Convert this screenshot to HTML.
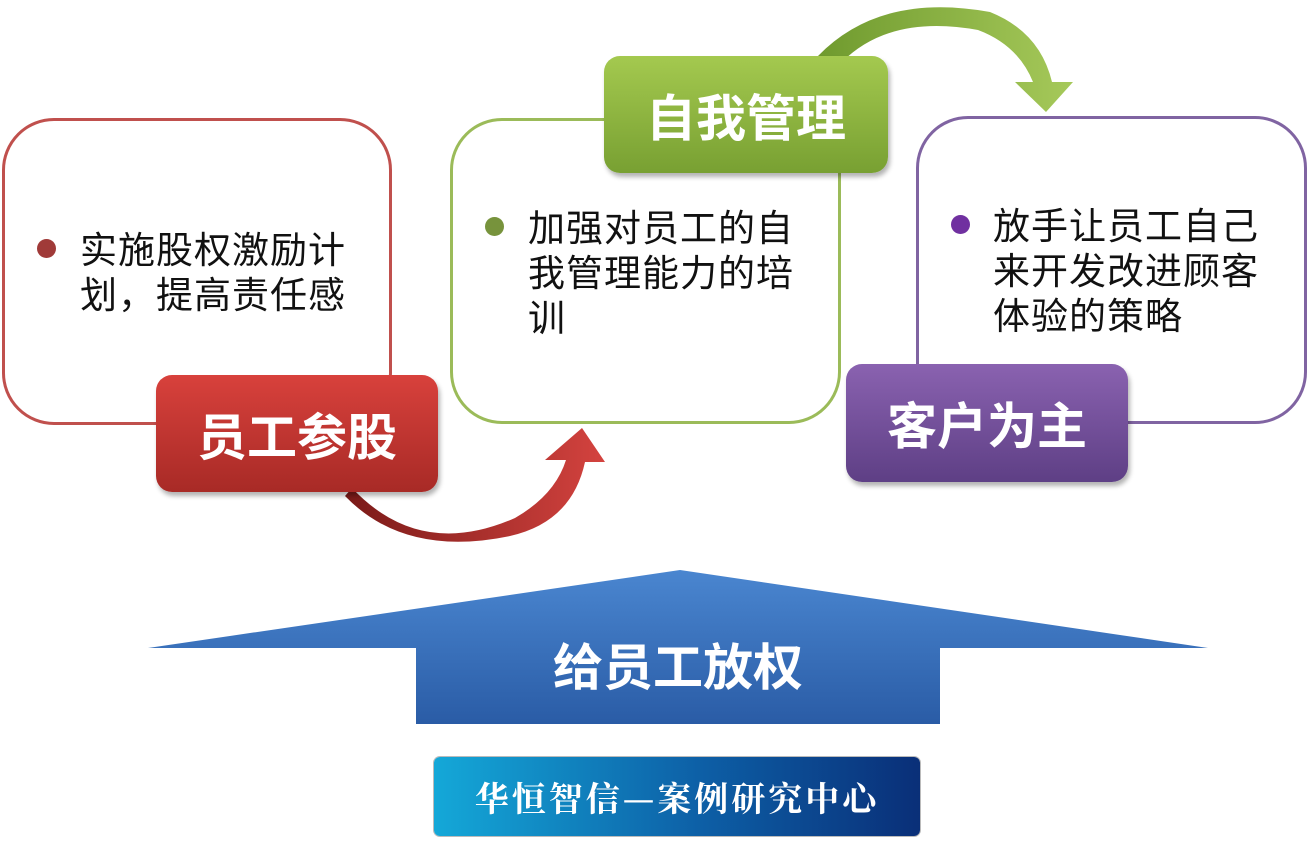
<!DOCTYPE html>
<html><head><meta charset="utf-8"><style>
body{margin:0;width:1308px;height:841px;background:#fff;position:relative;overflow:hidden;font-family:"Liberation Sans","Noto Sans CJK SC",sans-serif;}
.box{position:absolute;background:#fff;border-radius:52px;border:3px solid;box-sizing:border-box;}
.lab{position:absolute;border-radius:16px;color:#fff;font-weight:bold;font-size:50px;display:flex;align-items:center;justify-content:center;box-shadow:2px 4px 5px rgba(0,0,0,.3);}
.txt{position:absolute;font-size:37px;line-height:45px;color:#111;letter-spacing:1px}
.dot{position:absolute;width:19px;height:19px;border-radius:50%;}
</style></head><body>
<svg width="1308" height="841" style="position:absolute;left:0;top:0">
<defs>
<linearGradient id="rg" x1="0" y1="0" x2="1" y2="0"><stop offset="0" stop-color="#7a1a18"/><stop offset="1" stop-color="#d4433f"/></linearGradient>
<linearGradient id="gg" x1="0" y1="0" x2="1" y2="0"><stop offset="0" stop-color="#6f9a2e"/><stop offset="1" stop-color="#a6c95a"/></linearGradient>
<linearGradient id="bg" x1="0" y1="0" x2="0" y2="1"><stop offset="0" stop-color="#4a86d0"/><stop offset="1" stop-color="#2a5ca6"/></linearGradient>
</defs>
<path d="M352,488 Q420,560 515,518 Q555,495 566,460 L545,460 L582,428 L605,462 L585,462 Q572,522 510,536 Q405,558 345,496 Z" fill="url(#rg)"/>
<path d="M818,56 Q880,-8 990,12 Q1040,32 1052,82 L1073,82 L1046,112 L1015,82 L1033,82 Q1018,45 978,30 Q890,14 842,62 Z" fill="url(#gg)"/>
<polygon points="680,570 148,648 416,648 416,724 940,724 940,648 1208,648" fill="url(#bg)"/>
</svg>
<div class="box" style="left:2px;top:118px;width:390px;height:307px;border-color:#c0504d"></div>
<div class="box" style="left:450px;top:118px;width:391px;height:306px;border-color:#9bbb59"></div>
<div class="box" style="left:916px;top:116px;width:391px;height:308px;border-color:#8064a2"></div>
<div class="dot" style="left:37px;top:239px;background:#a03a38"></div>
<div class="txt" style="left:80px;top:228px">实施股权激励计<br>划，提高责任感</div>
<div class="dot" style="left:485px;top:217px;background:#77933c"></div>
<div class="txt" style="left:528px;top:206px">加强对员工的自<br>我管理能力的培<br>训</div>
<div class="dot" style="left:951px;top:215px;background:#7030a0"></div>
<div class="txt" style="left:993px;top:204px">放手让员工自己<br>来开发改进顾客<br>体验的策略</div>
<div class="lab" style="left:156px;top:375px;width:282px;height:117px;background:linear-gradient(#d8413c,#a82a26)">员工参股</div>
<div class="lab" style="left:604px;top:56px;width:284px;height:117px;background:linear-gradient(#a4c94f,#78a032)">自我管理</div>
<div class="lab" style="left:846px;top:364px;width:282px;height:118px;background:linear-gradient(#8a62b0,#5e3f85)">客户为主</div>
<div style="position:absolute;left:416px;top:636px;width:524px;text-align:center;color:#fff;font-weight:bold;font-size:50px;line-height:64px">给员工放权</div>
<div style="position:absolute;left:434px;top:757px;width:486px;height:79px;border-radius:6px;background:linear-gradient(to right,#14a8d8,#0d5fa6 55%,#0a2f78);box-shadow:0 0 0 1px #bbb;color:#fff;font-family:'Noto Serif CJK SC',serif;font-weight:bold;font-size:34px;display:flex;align-items:center;justify-content:center;letter-spacing:3px">华恒智信—案例研究中心</div>
</body></html>
